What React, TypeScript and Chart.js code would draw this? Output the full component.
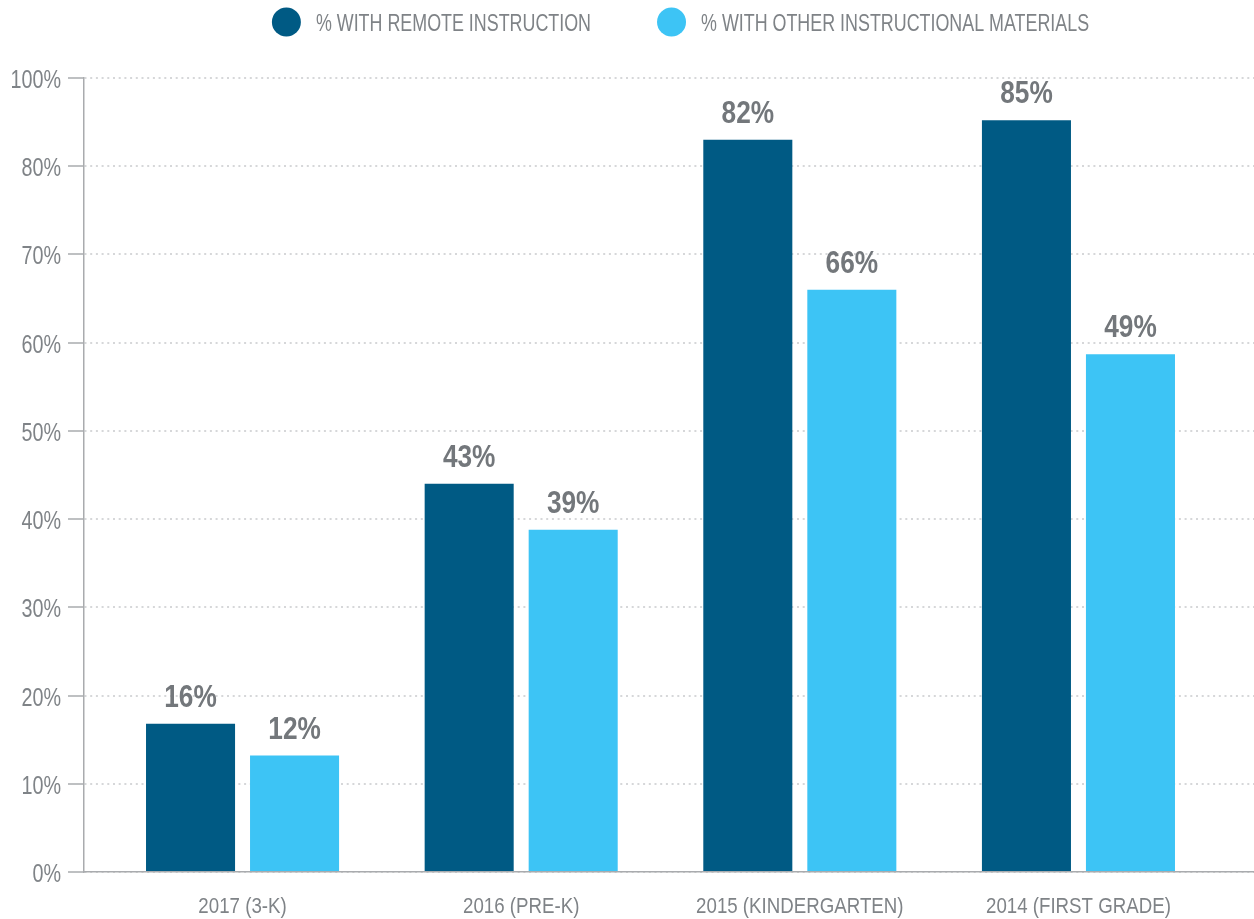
import React, { useEffect, useRef } from "react";
import { Chart, registerables } from "chart.js";

Chart.register(...registerables);

const categories = ["2017 (3-K)", "2016 (PRE-K)", "2015 (KINDERGARTEN)", "2014 (FIRST GRADE)"];
const seriesNames = ["% WITH REMOTE INSTRUCTION", "% WITH OTHER INSTRUCTIONAL MATERIALS"];
const remoteValues = [16.8, 44.0, 83.0, 85.2];
const otherValues = [13.2, 38.8, 66.0, 58.7];
const remoteLabels = ["16%", "43%", "82%", "85%"];
const otherLabels = ["12%", "39%", "66%", "49%"];
const yTickLabels = ["0%", "10%", "20%", "30%", "40%", "50%", "60%", "70%", "80%", "100%"];

const FONT = "'Liberation Sans', Arial, sans-serif";
const DARK = "#005a84";
const LIGHT = "#3dc4f5";
const TEXT_GRAY = "#7f8387";
const LABEL_GRAY = "#73777b";
const AXIS_GRAY = "#a9abae";

function drawNarrowText(
  ctx: CanvasRenderingContext2D,
  text: string,
  x: number,
  y: number,
  align: CanvasTextAlign,
  font: string,
  sx: number,
  color: string
) {
  ctx.save();
  ctx.font = font;
  ctx.fillStyle = color;
  ctx.textAlign = align;
  ctx.textBaseline = "alphabetic";
  ctx.translate(x, y);
  ctx.scale(sx, 1);
  ctx.fillText(text, 0, 0);
  ctx.restore();
}

const textPlugin = {
  id: "narrowTexts",
  afterDraw(chart: any) {
    const ctx: CanvasRenderingContext2D = chart.ctx;
    const xScale = chart.scales.x;
    const yScale = chart.scales.y;

    // y tick labels
    yScale.ticks.forEach((t: any, i: number) => {
      const py = yScale.getPixelForValue(t.value);
      drawNarrowText(ctx, yTickLabels[i], 61, py + 10, "right", `25px ${FONT}`, 0.79, TEXT_GRAY);
    });

    // x category labels
    xScale.ticks.forEach((t: any) => {
      const px = xScale.getPixelForValue(t.value);
      drawNarrowText(ctx, categories[Math.round(t.value)], px, 913, "center", `22px ${FONT}`, 0.85, TEXT_GRAY);
    });

    // value labels above bars
    const sets = [remoteLabels, otherLabels];
    chart.data.datasets.forEach((_ds: any, di: number) => {
      const meta = chart.getDatasetMeta(di);
      meta.data.forEach((el: any, i: number) => {
        drawNarrowText(ctx, sets[di][i], el.x, el.y - 17, "center", `bold 32px ${FONT}`, 0.82, LABEL_GRAY);
      });
    });

    // legend
    const r = 14.5;
    const textGap = 15;
    const itemGap = 66;
    const centerX = 680.5;
    const cy = 22;
    const sx = 0.745;
    ctx.save();
    ctx.font = `24px ${FONT}`;
    const items = chart.data.datasets.map((ds: any) => ({
      text: ds.label as string,
      color: ds.backgroundColor as string,
      w: ctx.measureText(ds.label).width * sx,
    }));
    ctx.restore();
    const total =
      items.reduce((s: number, it: any) => s + 2 * r + textGap + it.w, 0) + itemGap * (items.length - 1);
    let x = centerX - total / 2;
    items.forEach((it: any) => {
      ctx.save();
      ctx.fillStyle = it.color;
      ctx.beginPath();
      ctx.arc(x + r, cy, r, 0, Math.PI * 2);
      ctx.fill();
      ctx.restore();
      drawNarrowText(ctx, it.text, x + 2 * r + textGap, 31, "left", `24px ${FONT}`, sx, TEXT_GRAY);
      x += 2 * r + textGap + it.w + itemGap;
    });
  },
};

export default function App() {
  const canvasRef = useRef<HTMLCanvasElement | null>(null);

  useEffect(() => {
    const canvas = canvasRef.current;
    if (!canvas) return;
    const chart = new Chart(canvas, {
      type: "bar",
      data: {
        datasets: [
          {
            label: seriesNames[0],
            data: remoteValues.map((v, i) => ({ x: i, y: v })),
            backgroundColor: DARK,
          },
          {
            label: seriesNames[1],
            data: otherValues.map((v, i) => ({ x: i, y: v })),
            backgroundColor: LIGHT,
          },
        ],
      },
      options: {
        animation: false,
        responsive: false,
        maintainAspectRatio: false,
        layout: { padding: { top: 78, left: 0, right: 0, bottom: 0 } },
        datasets: {
          bar: { categoryPercentage: 0.7466, barPercentage: 0.856 },
        },
        plugins: {
          legend: { display: false },
          tooltip: { enabled: false },
        },
        scales: {
          x: {
            type: "linear",
            offset: false,
            min: -0.569,
            max: 3.63,
            afterBuildTicks: (scale: any) => {
              scale.ticks = categories.map((_c, i) => ({ value: i }));
            },
            afterFit: (scale: any) => {
              scale.height = 47;
            },
            grid: { display: false, drawTicks: false },
            border: { display: true, color: AXIS_GRAY, width: 1.5 },
            ticks: { display: false },
          },
          y: {
            min: 0,
            max: 90,
            afterFit: (scale: any) => {
              scale.width = 84;
            },
            ticks: {
              stepSize: 10,
              display: false,
            },
            grid: {
              color: "#d6d7d9",
              lineWidth: 2,
              drawTicks: true,
              tickLength: 16,
              tickColor: AXIS_GRAY,
              tickWidth: 1.5,
              tickBorderDash: [],
            },
            border: { display: true, color: AXIS_GRAY, width: 1.5, dash: [2, 3.7] },
          },
        },
      },
      plugins: [textPlugin],
    } as any);
    return () => chart.destroy();
  }, []);

  return (
    <div style={{ position: "absolute", left: 0, top: 0, width: 1254, height: 919 }}>
      <canvas ref={canvasRef} width={1254} height={919} />
    </div>
  );
}
